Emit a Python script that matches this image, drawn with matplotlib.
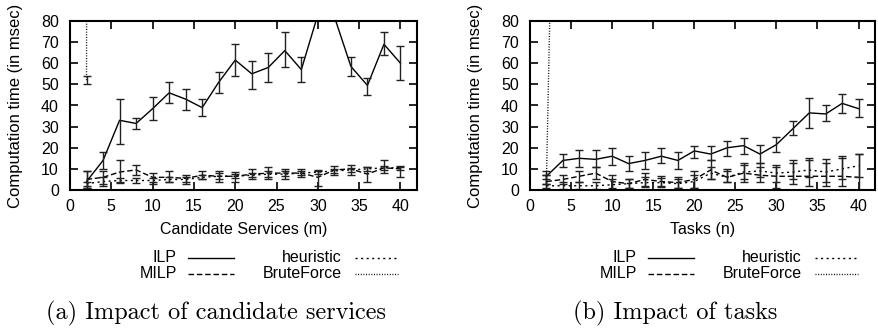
import matplotlib.pyplot as plt
from matplotlib.lines import Line2D

plt.rcParams['font.family'] = ['Liberation Sans', 'DejaVu Sans']

x = [2, 4, 6, 8, 10, 12, 14, 16, 18, 20, 22, 24, 26, 28, 30, 32, 34, 36, 38, 40]

# (a) candidate services
a_ilp = [4, 14, 33, 31.5, 38.5, 46, 43, 39, 51, 61.5, 55, 58, 66, 57, 83, 82, 58.5, 49.5, 69, 60]
a_ilp_lo = [1, 10, 22, 29, 33, 41, 38, 35, 46, 54, 48, 51, 58, 51, 81, 81, 54, 45, 64, 52]
a_ilp_hi = [9, 18, 43, 34, 44, 51, 48, 43, 56, 69, 61, 65, 75, 63, 85, 84, 63, 53, 75, 68]
a_milp = [5, 6, 8.5, 9.5, 6, 6, 5.5, 7, 6.5, 6.5, 7.5, 8, 8, 8, 6, 9.5, 10, 7.5, 10.5, 10]
a_milp_lo = [1, 3, 4, 7, 4, 4, 3, 5, 4, 4, 5, 5, 5, 6, 2, 7, 7, 4, 8, 6]
a_milp_hi = [9, 9, 14, 12, 8, 9, 7, 9, 9, 8.5, 10, 11, 10, 10, 9, 11.5, 12, 11, 14, 11]
a_heur = [3, 4, 4.5, 4.5, 4.5, 5, 5, 6, 6.5, 6.5, 7, 7.5, 7.5, 8, 8.5, 9, 9.5, 10, 10.5, 10.5]
a_heur_lo = [2, 2, 3.5, 3.5, 3, 4, 4, 5, 5, 5.5, 6, 6, 6.5, 7, 7.5, 8, 8.5, 9, 9.5, 9.5]
a_heur_hi = [4, 6, 5.5, 5.5, 5.5, 6, 6, 7, 8, 7.5, 8, 9, 9, 9, 9.5, 10, 10.5, 11, 11.5, 11.5]
a_bf_x = [2, 4]
a_bf = [52, 20000]
a_bf_lo = [50, 20000]
a_bf_hi = [54, 20000]

# (b) tasks
b_ilp = [6.5, 14, 15, 14.5, 16, 12.5, 14, 16, 14, 18.5, 17, 20, 21, 17, 21.5, 29, 36.5, 36, 41, 38.5]
b_ilp_lo = [3, 11, 11, 11, 12, 9, 10, 13, 10, 15, 14, 16, 17, 13, 18, 26, 29.5, 32.5, 36.5, 34.5]
b_ilp_hi = [9, 17, 19, 19, 20, 16, 18, 20, 18, 21, 21, 23, 24.5, 21.5, 25, 32.5, 43.5, 40, 45.5, 43]
b_milp = [4, 5, 6.5, 8, 4, 3, 5, 4, 3.5, 5, 9.5, 6, 8, 7, 6.5, 6.5, 6.5, 6.5, 6.5, 6]
b_milp_lo = [1, 3, 4, 5, 1, 1, 2, 2, 1, 1, 5, 4, 4, 4, 1, 3, 2, 2, 2, 0]
b_milp_hi = [7, 7, 9, 11, 7, 5, 8, 6.5, 6, 9, 14, 10, 13, 11, 11, 14, 15, 14.5, 16, 17]
b_heur = [2, 2, 2, 2, 2.5, 3, 3.5, 3.5, 3, 4, 8, 6, 8.5, 9, 8, 8.5, 9.5, 8.5, 10, 11.5]
b_heur_lo = [0, 0.5, 0.5, 0.5, 0, 1, 1.5, 1.5, 1, 1, 5, 4, 5, 6, 4, 5, 6, 4, 5, 6]
b_heur_hi = [5, 4, 4, 4, 5, 5, 6, 5.5, 5, 7, 11, 9, 12, 13, 12, 13, 14, 13, 15, 17]
b_bf_x = [2, 4]
b_bf = [5, 380]
b_bf_lo = [3, 380]
b_bf_hi = [7, 380]

panels = [
    ('Candidate Services (m)', '(a) Impact of candidate services',
     [(x, a_ilp, a_ilp_lo, a_ilp_hi), (x, a_milp, a_milp_lo, a_milp_hi),
      (x, a_heur, a_heur_lo, a_heur_hi), (a_bf_x, a_bf, a_bf_lo, a_bf_hi)]),
    ('Tasks (n)', '(b) Impact of tasks',
     [(x, b_ilp, b_ilp_lo, b_ilp_hi), (x, b_milp, b_milp_lo, b_milp_hi),
      (x, b_heur, b_heur_lo, b_heur_hi), (b_bf_x, b_bf, b_bf_lo, b_bf_hi)]),
]
names = ['ILP', 'MILP', 'heuristic', 'BruteForce']
styles = ['-', (0, (4, 2)), (0, (1.5, 2.5)), (0, (0.7, 1.2))]

W, H = 879, 328
fig = plt.figure(figsize=(W / 100, H / 100), dpi=100)
lefts = [70, 530]
rights = [417, 875]

for i, (xlab, cap, series) in enumerate(panels):
    ax = fig.add_axes([lefts[i] / W, 1 - 190 / H, (rights[i] - lefts[i]) / W, (190 - 21) / H])
    for (xs, ys, lo, hi), ls in zip(series, styles):
        err = [[y - l for y, l in zip(ys, lo)], [h - y for y, h in zip(ys, hi)]]
        ax.plot(xs, ys, color='black', lw=1.0, linestyle=ls)
        ax.errorbar(xs, ys, yerr=err, fmt='none', ecolor='#222222', elinewidth=1.0,
                    capsize=3.2, capthick=1.0)
    ax.set_xlim(0, 42)
    ax.set_ylim(0, 80)
    ax.set_xticks(range(0, 41, 5))
    ax.set_yticks(range(0, 81, 10))
    ax.tick_params(direction='in', length=6, width=1.2, top=True, right=True,
                   labelsize=11.5)
    ax.tick_params(axis='x', pad=6.5)
    ax.tick_params(axis='y', pad=8)
    for s in ax.spines.values():
        s.set_linewidth(1.5)
    ax.set_xlabel(xlab, fontsize=11.5, labelpad=6)
    ax.set_ylabel('Computation time (in msec)', fontsize=12, labelpad=13)

    # legend, gnuplot style: right-aligned labels followed by sample
    off = 0 if i == 0 else 460
    cols = [(177 + off, 188 + off, 234 + off), (342 + off, 355 + off, 398 + off)]
    rows = [258, 274]
    for k, (name, ls) in enumerate(zip(names, styles)):
        tx, l0, l1 = cols[k // 2]
        ty = rows[k % 2]
        fig.text(tx / W, 1 - ty / H, name, ha='right', va='center', fontsize=11.5)
        fig.add_artist(Line2D([l0 / W, l1 / W], [1 - ty / H, 1 - ty / H],
                              color='black', lw=1.0, linestyle=ls))

    fig.text((216 if i == 0 else 675) / W, 1 - 313 / H, cap, ha='center', va='center',
             fontsize=17.5, family=['cmr10', 'DejaVu Serif'])

fig.savefig('out.png', dpi=100)
